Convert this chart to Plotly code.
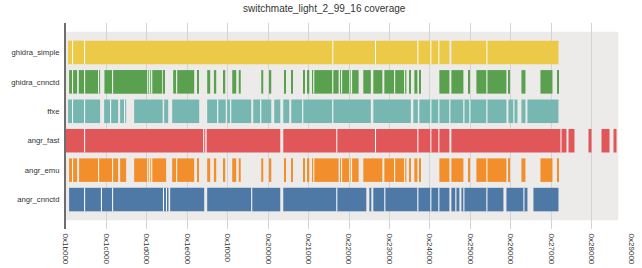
import plotly.graph_objects as go

# rows listed bottom -> top
rows = ["angr_cnnctd", "angr_emu", "angr_fast", "ffxe", "ghidra_cnnctd", "ghidra_simple"]

row_colors = {
    "ghidra_simple": "#edc948",
    "ghidra_cnnctd": "#59a14f",
    "ffxe": "#76b7b2",
    "angr_fast": "#e15759",
    "angr_emu": "#f28e2b",
    "angr_cnnctd": "#4e79a7",
}

image_start = 0x1b000
image_end = 0x28a90

tick_addrs = [0x1b000, 0x1c000, 0x1d000, 0x1e000, 0x1f000, 0x20000, 0x21000, 0x22000,
              0x23000, 0x24000, 0x25000, 0x26000, 0x27000, 0x28000, 0x29000]
tick_labels = ["0x%x" % a for a in tick_addrs]

ghidra_simple = [
    (0x1b0d5, 0x1b29d), (0x1b29d, 0x1b75e), (0x1b75e, 0x21997), (0x21997, 0x22a80),
    (0x22a80, 0x23b41), (0x23b41, 0x24067), (0x24067, 0x24392), (0x24392, 0x247bb),
    (0x24885, 0x25695), (0x25695, 0x272e6)]

ghidra_cnnctd = [
    (0x1b13a, 0x1b29d), (0x1b29d, 0x1b465), (0x1b512, 0x1b75e), (0x1b75e, 0x1bce9), (0x1bce9, 0x1bd81),
    (0x1bf35, 0x1c275), (0x1c275, 0x1d05c), (0x1d05c, 0x1d126), (0x1d126, 0x1d1f1), (0x1d1f1, 0x1d610),
    (0x1d6bc, 0x1d721), (0x1da6b, 0x1dbce), (0x1dbce, 0x1e2bc), (0x1e3ec, 0x1e452), (0x1e7e2, 0x1e912),
    (0x1ea89, 0x1eb73), (0x1ee7f, 0x1ef03), (0x1f1c9, 0x1f35e), (0x1f45c, 0x1f527), (0x1fd45, 0x1fe10),
    (0x200b7, 0x2013b), (0x20661, 0x206e5), (0x20927, 0x209ab), (0x20de8, 0x20e6b), (0x20fc4, 0x21048),
    (0x21178, 0x21210), (0x21210, 0x21997), (0x21997, 0x21be3), (0x21c7b, 0x21d13), (0x21d13, 0x22053),
    (0x22053, 0x22109), (0x22109, 0x223ce), (0x225ab, 0x228a4), (0x229a1, 0x22d32), (0x22dfd, 0x23211),
    (0x23211, 0x23606), (0x23606, 0x236b3), (0x237e3, 0x23848), (0x239de, 0x23b0e), (0x23bd9, 0x23c3e),
    (0x243c5, 0x247bb), (0x24885, 0x24d46), (0x24f41, 0x24fa6), (0x2526c, 0x25695), (0x25695, 0x25e4e),
    (0x25f18, 0x25f7e), (0x2643e, 0x265d4), (0x26bc5, 0x27086), (0x27281, 0x272e6)]

ffxe = [
    (0x1b0d5, 0x1b29d), (0x1b29d, 0x1b75e), (0x1b75e, 0x1bd81), (0x1bf17, 0x1c1aa), (0x1c1aa, 0x1c4a2),
    (0x1c56d, 0x1c735), (0x1c735, 0x1c7cd), (0x1caf9, 0x1d642), (0x1d6da, 0x1d870), (0x1da06, 0x1e4b7),
    (0x1e7e2, 0x1ec0b), (0x1ec0b, 0x1ef36), (0x1efce, 0x1f131), (0x1f131, 0x1f94f), (0x1fa1a, 0x1fd13),
    (0x1fd13, 0x2013b), (0x2026b, 0x204cc), (0x205fc, 0x2085c), (0x20927, 0x20db5), (0x20db5, 0x21997),
    (0x21997, 0x228a4), (0x229a1, 0x2387b), (0x23978, 0x23b41), (0x23bd9, 0x24067), (0x24067, 0x24392),
    (0x24392, 0x247ed), (0x247ed, 0x24d79), (0x24d79, 0x24fd9), (0x24fd9, 0x25695), (0x25695, 0x25e4e),
    (0x25f18, 0x26146), (0x26146, 0x262a9), (0x2643e, 0x265d4), (0x2669f, 0x272e6)]

angr_fast = [
    (0x1b000, 0x1b75e), (0x1b75e, 0x1e67f), (0x1e67f, 0x1e717), (0x1e7b0, 0x204cc), (0x205fc, 0x21b2c),
    (0x21b2c, 0x22a80), (0x22a80, 0x23b41), (0x23b41, 0x24067), (0x24067, 0x24392), (0x24392, 0x247bb),
    (0x24885, 0x273e4), (0x273e4, 0x27611), (0x276dc, 0x2793c), (0x27ec8, 0x27ff8), (0x283ee, 0x28719),
    (0x288af, 0x289df)]

angr_emu = [
    (0x1b13a, 0x1b29d), (0x1b29d, 0x1b465), (0x1b530, 0x1bce9), (0x1bce9, 0x1c275), (0x1c275, 0x1c4a2),
    (0x1c56d, 0x1c7cd), (0x1caf9, 0x1d05c), (0x1d05c, 0x1d126), (0x1d126, 0x1d1f1), (0x1d1f1, 0x1d7a5),
    (0x1da06, 0x1dbce), (0x1dbce, 0x1e2bc), (0x1e3ec, 0x1e452), (0x1e7e2, 0x1e912), (0x1ea89, 0x1eb73),
    (0x1ee7f, 0x1ef03), (0x1f1c9, 0x1f35e), (0x1f45c, 0x1f527), (0x1fd45, 0x1fe10), (0x200b7, 0x2013b),
    (0x20661, 0x206e5), (0x20927, 0x209ab), (0x20de8, 0x20e6b), (0x20fc4, 0x21048), (0x21178, 0x21210),
    (0x21210, 0x21be3), (0x21c7b, 0x21d13), (0x21d13, 0x22053), (0x22053, 0x22109), (0x22109, 0x223ce),
    (0x225ab, 0x22d32), (0x22dfd, 0x23211), (0x23211, 0x23606), (0x23606, 0x236b3), (0x237e3, 0x23848),
    (0x239de, 0x23b0e), (0x23bd9, 0x23c3e), (0x243c5, 0x247bb), (0x24885, 0x24d46), (0x24f41, 0x24fa6),
    (0x2526c, 0x25695), (0x25695, 0x25e4e), (0x25f18, 0x25f7e), (0x2643e, 0x265d4), (0x26bc5, 0x27086),
    (0x27281, 0x272e6)]

angr_cnnctd = [
    (0x1b13a, 0x1b75e), (0x1b75e, 0x1be05), (0x1be05, 0x1c275), (0x1c275, 0x1d693), (0x1d693, 0x1d7c4),
    (0x1d7c4, 0x1d88e), (0x1d93b, 0x1e6b2), (0x1e7e2, 0x1f982), (0x1f982, 0x204cc), (0x205fc, 0x21b2c),
    (0x21b2c, 0x226db), (0x2280b, 0x228d7), (0x229a1, 0x22e2f), (0x22e2f, 0x23b41), (0x23b41, 0x24067),
    (0x24067, 0x24392), (0x24392, 0x247bb), (0x24885, 0x24a4d), (0x24a4d, 0x24bb0), (0x24c7b, 0x24d79),
    (0x24d79, 0x25695), (0x25695, 0x25d1e), (0x25e4e, 0x2653c), (0x2653c, 0x2669f), (0x268ff, 0x272e6)]

segments = {
    "ghidra_simple": ghidra_simple,
    "ghidra_cnnctd": ghidra_cnnctd,
    "ffxe": ffxe,
    "angr_fast": angr_fast,
    "angr_emu": angr_emu,
    "angr_cnnctd": angr_cnnctd,
}

BAR_W = 0.8
FONT = "Liberation Sans, Arial, Helvetica, sans-serif"

fig = go.Figure()

for i, name in enumerate(rows):
    segs = segments[name]
    fig.add_trace(go.Bar(
        orientation="h",
        y=[i] * len(segs),
        base=[s for s, e in segs],
        x=[e - s for s, e in segs],
        width=BAR_W,
        marker=dict(color=row_colors[name], line=dict(width=0)),
        hoverinfo="skip",
        showlegend=False,
    ))

# white separators where consecutive blocks touch
for i, name in enumerate(rows):
    segs = segments[name]
    xs, ys = [], []
    for (s0, e0), (s1, e1) in zip(segs[:-1], segs[1:]):
        if e0 == s1:
            xs += [e0, e0, None]
            ys += [i - BAR_W / 2, i + BAR_W / 2, None]
    fig.add_trace(go.Scatter(
        x=xs, y=ys, mode="lines",
        line=dict(color="white", width=1),
        hoverinfo="skip", showlegend=False,
    ))

fig.update_layout(
    width=642, height=268,
    margin=dict(l=66, r=10, t=23, b=39, autoexpand=False),
    plot_bgcolor="white", paper_bgcolor="white",
    barmode="overlay",
    font=dict(family=FONT, size=8, color="#333333"),
    title=dict(text="switchmate_light_2_99_16 coverage", x=0.505, xanchor="center",
               xref="container", yref="container", y=0.97, yanchor="middle",
               font=dict(family=FONT, size=10, color="#333333")),
    xaxis=dict(range=[0x1b000, 0x29000], tickmode="array", tickvals=tick_addrs, ticktext=tick_labels,
               tickangle=90, showgrid=True, gridcolor="#d4d4d4", gridwidth=1, automargin=False,
               zeroline=False, showline=False, ticks="outside", ticklen=2,
               tickcolor="rgba(0,0,0,0)", tickfont=dict(size=8, color="#333333")),
    yaxis=dict(range=[-1, 6], tickmode="array", tickvals=list(range(len(rows))), ticktext=rows,
               showgrid=False, zeroline=False, showline=True, linecolor="#6e6e6e", linewidth=2,
               automargin=False, ticks="outside", ticklen=3, tickcolor="rgba(0,0,0,0)",
               tickfont=dict(size=7.7, color="#333333")),
    shapes=[dict(type="rect", layer="below", xref="x", yref="y",
                 x0=image_start, x1=image_end, y0=-1 + 0.3, y1=len(rows) - 1 + 0.7,
                 fillcolor="#ecebe9", line=dict(width=0))],
)

fig.write_html("out.html",
               config={"displayModeBar": False, "staticPlot": False},
               post_script="document.body.style.margin='0';document.body.style.overflow='hidden';")
